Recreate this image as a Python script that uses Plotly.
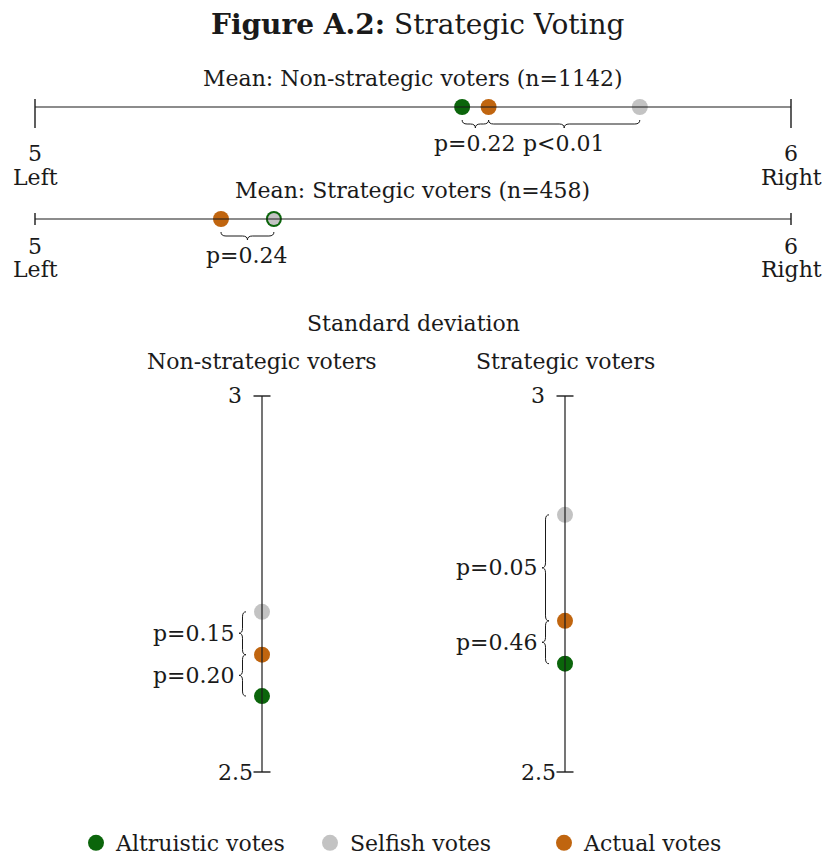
import plotly.graph_objects as go

W, H = 826, 864
FONT = "DejaVu Serif"
INK = "#1a1a1a"
FS = 22

# ---- data -------------------------------------------------------------
categories = ["Altruistic votes", "Selfish votes", "Actual votes"]
colors = ["#0b650b", "#c3c3c3", "#c0650f"]

mean_nonstrategic = [5.565, 5.800, 5.600]
mean_strategic = [5.316, 5.316, 5.246]
sd_nonstrategic = [2.601, 2.713, 2.656]
sd_strategic = [2.644, 2.842, 2.701]

# pairwise tests: (index a, index b, label)
p_mean_nonstrategic = [(0, 2, "p=0.22"), (2, 1, "p<0.01")]
p_mean_strategic = [(2, 0, "p=0.24")]
p_sd_nonstrategic = [(1, 2, "p=0.15"), (2, 0, "p=0.20")]
p_sd_strategic = [(1, 2, "p=0.05"), (2, 0, "p=0.46")]

mean_range = [5, 6]
mean_tick_labels = ["5", "6"]
mean_side_labels = ["Left", "Right"]
sd_range = [2.5, 3]
sd_tick_labels = ["2.5", "3"]

# ---- layout helpers (pixel -> paper) ----------------------------------
def px(x):
    return x / W


def py(y):
    return 1 - y / H


fig = go.Figure()
layout = {}
shapes = []
annotations = []


def text(x, y, s, size=FS, xref="paper", yref="paper", xanchor="center", **kw):
    annotations.append(dict(x=x, y=y, text=s, xref=xref, yref=yref,
                            showarrow=False, xanchor=xanchor,
                            font=dict(family=FONT, size=size, color=INK), **kw))


def hpanel(n, line_y, top, bottom, x0=35, x1=791, pad=25):
    """Horizontal number line: x in data units, y in pixels around the line."""
    k = (mean_range[1] - mean_range[0]) / (x1 - x0)
    layout[f"xaxis{n}"] = dict(domain=[px(x0 - pad), px(x1 + pad)],
                               range=[mean_range[0] - pad * k, mean_range[1] + pad * k],
                               visible=False, fixedrange=True, anchor=f"y{n}")
    layout[f"yaxis{n}"] = dict(domain=[py(bottom), py(top)],
                               range=[-(bottom - line_y), line_y - top],
                               visible=False, fixedrange=True, anchor=f"x{n}")
    return k


def vpanel(n, axis_x, left, right, top=396, bottom=772, pad=20):
    """Vertical scale: y in data units, x in pixels around the axis."""
    k = (sd_range[1] - sd_range[0]) / (bottom - top)
    layout[f"xaxis{n}"] = dict(domain=[px(left), px(right)],
                               range=[-(axis_x - left), right - axis_x],
                               visible=False, fixedrange=True, anchor=f"y{n}")
    layout[f"yaxis{n}"] = dict(domain=[py(bottom + pad), py(top - pad)],
                               range=[sd_range[0] - pad * k, sd_range[1] + pad * k],
                               visible=False, fixedrange=True, anchor=f"x{n}")
    return k


def line(n, x0, y0, x1, y1, width=1.2):
    shapes.append(dict(type="line", xref=f"x{n}", yref=f"y{n}",
                       x0=x0, y0=y0, x1=x1, y1=y1,
                       line=dict(color=INK, width=width)))


def hbrace(n, xa, xb, label, rx, e=-13, a=8):
    xa, xb = sorted([xa, xb])
    xm = (xa + xb) / 2
    h, t = e - a / 2, e - a
    path = (f"M {xa},{e} Q {xa},{h} {xa + rx},{h} L {xm - rx},{h} "
            f"Q {xm},{h} {xm},{t} Q {xm},{h} {xm + rx},{h} "
            f"L {xb - rx},{h} Q {xb},{h} {xb},{e}")
    shapes.append(dict(type="path", path=path, xref=f"x{n}", yref=f"y{n}",
                       line=dict(color=INK, width=1)))
    text(xm, t - 15, label, xref=f"x{n}", yref=f"y{n}", yanchor="middle")


def vbrace(n, ya, yb, label, ry, e=-16, a=7):
    ya, yb = sorted([ya, yb])
    ym = (ya + yb) / 2
    h, t = e - a / 2, e - a
    path = (f"M {e},{ya} Q {h},{ya} {h},{ya + ry} L {h},{ym - ry} "
            f"Q {h},{ym} {t},{ym} Q {h},{ym} {h},{ym + ry} "
            f"L {h},{yb - ry} Q {h},{yb} {e},{yb}")
    shapes.append(dict(type="path", path=path, xref=f"x{n}", yref=f"y{n}",
                       line=dict(color=INK, width=1)))
    text(t - 2, ym, label, xref=f"x{n}", yref=f"y{n}", xanchor="right", yanchor="middle")


# ---- title ------------------------------------------------------------
text(px(418), py(24), "<b>Figure A.2:</b> Strategic Voting", size=28, yanchor="middle")

# ---- mean panels (horizontal number lines) ----------------------------
# (axis no., line y, domain top, domain bottom, values, tests, title,
#  tick extent above/below, value-label offset, side-label offset, marker sizes)
mean_panels = [
    (1, 107, 55, 200, mean_nonstrategic, p_mean_nonstrategic,
     "Mean: Non-strategic voters (n=1142)", (8, -21), -46, -70, [16, 16, 16]),
    (2, 219, 180, 290, mean_strategic, p_mean_strategic,
     "Mean: Strategic voters (n=458)", (6, -6), -27, -50, [16, 12, 16]),
]
for n, ly, top, bottom, vals, tests, title, tick, num_y, side_y, sizes in mean_panels:
    k = hpanel(n, ly, top, bottom)
    line(n, mean_range[0], 0, mean_range[1], 0)
    for v, lab, side in zip(mean_range, mean_tick_labels, mean_side_labels):
        line(n, v, tick[0], v, tick[1], width=1.4)
        text(v, num_y, lab, xref=f"x{n}", yref=f"y{n}", yanchor="middle")
        text(v, side_y, side, xref=f"x{n}", yref=f"y{n}", yanchor="middle")
    text(px(412), py(ly - 29), title, yanchor="middle")
    for a, b, lab in tests:
        hbrace(n, vals[a], vals[b], lab, rx=5 * k)
    for i, cat in enumerate(categories):
        fig.add_trace(go.Scatter(
            x=[vals[i]], y=[0], mode="markers", name=cat,
            legendgroup=cat, showlegend=(n == 1), cliponaxis=False,
            marker=dict(color=colors[i], size=sizes[i], line=dict(width=0)),
            xaxis=f"x{n}", yaxis=f"y{n}", hoverinfo="x+name"))

# ---- standard deviation panels (vertical scales) ----------------------
text(px(413), py(323), "Standard deviation", yanchor="middle")
sd_panels = [
    (3, 262, 120, 330, sd_nonstrategic, p_sd_nonstrategic, "Non-strategic voters"),
    (4, 565, 420, 650, sd_strategic, p_sd_strategic, "Strategic voters"),
]
for n, ax, left, right, vals, tests, title in sd_panels:
    k = vpanel(n, ax, left, right)
    line(n, 0, sd_range[0], 0, sd_range[1])
    for v, lab in zip(sd_range, sd_tick_labels):
        line(n, -8.5, v, 8.5, v, width=1.4)
        text(-27, v, lab, xref=f"x{n}", yref=f"y{n}", yanchor="middle")
    text(px(ax), py(362), title, yanchor="middle")
    for a, b, lab in tests:
        vbrace(n, vals[a], vals[b], lab, ry=5 * k)
    for i, cat in enumerate(categories):
        fig.add_trace(go.Scatter(
            x=[0], y=[vals[i]], mode="markers", name=cat,
            legendgroup=cat, showlegend=False, cliponaxis=False,
            marker=dict(color=colors[i], size=16, line=dict(width=0)),
            xaxis=f"x{n}", yaxis=f"y{n}", hoverinfo="y+name"))

fig.update_layout(
    width=W, height=H,
    margin=dict(l=0, r=0, t=0, b=0),
    paper_bgcolor="white", plot_bgcolor="rgba(0,0,0,0)",
    font=dict(family=FONT, size=FS, color=INK),
    showlegend=True,
    legend=dict(orientation="h", x=px(76), y=0, xanchor="left", yanchor="bottom",
                entrywidth=189, entrywidthmode="pixels", itemclick=False,
                font=dict(family=FONT, size=FS, color=INK),
                bgcolor="rgba(0,0,0,0)", tracegroupgap=0),
    shapes=shapes,
    annotations=annotations,
    **layout,
)

fig.write_html("out.html")
